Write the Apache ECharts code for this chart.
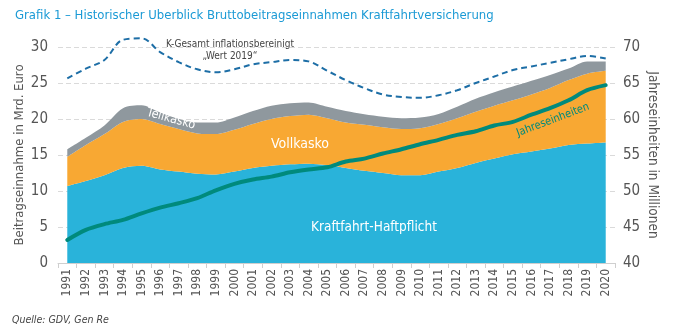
<!DOCTYPE html>
<html>
<head>
<meta charset="utf-8">
<script src="https://cdn.jsdelivr.net/npm/echarts@6/dist/echarts.min.js"></script>
<style>
  html, body { margin: 0; padding: 0; background: #fff; }
  #chart { width: 674px; height: 335px; }
</style>
</head>
<body>
<div id="chart"></div>
<script>
// Jahre
const years = ['1991','1992','1993','1994','1995','1996','1997','1998','1999','2000',
               '2001','2002','2003','2004','2005','2006','2007','2008','2009','2010',
               '2011','2012','2013','2014','2015','2016','2017','2018','2019','2020'];

// Beitragseinnahmen in Mrd. Euro (gestapelt)
const haftpflicht = [10.7, 11.4, 12.2, 13.2, 13.5, 13.0, 12.7, 12.4, 12.3, 12.7,
                     13.2, 13.5, 13.7, 13.8, 13.6, 13.2, 12.8, 12.5, 12.2, 12.2,
                     12.7, 13.2, 13.9, 14.5, 15.1, 15.5, 15.9, 16.4, 16.6, 16.75];
const vollkasko   = [4.05, 5.0, 5.7, 6.4, 6.5, 6.3, 5.9, 5.6, 5.6, 5.8,
                     6.1, 6.5, 6.7, 6.8, 6.5, 6.3, 6.4, 6.35, 6.4, 6.5,
                     6.6, 6.9, 7.1, 7.35, 7.5, 7.9, 8.4, 9.0, 9.7, 9.95];
const teilkasko   = [1.05, 1.0, 1.2, 1.9, 1.9, 1.6, 1.4, 1.5, 1.6, 1.7,
                     1.8, 1.85, 1.8, 1.7, 1.6, 1.6, 1.45, 1.45, 1.5, 1.5,
                     1.4, 1.6, 1.8, 1.85, 1.9, 1.9, 1.8, 1.6, 1.7, 1.3];

// K-Gesamt inflationsbereinigt (Wert 2019), Mrd. Euro
const kGesamtReal = [25.65, 27.0, 28.2, 31.0, 31.2, 29.3, 27.9, 26.9, 26.5, 26.9,
                     27.6, 27.9, 28.2, 28.0, 26.7, 25.4, 24.3, 23.4, 23.05, 22.95,
                     23.3, 24.0, 25.0, 25.9, 26.8, 27.3, 27.8, 28.3, 28.75, 28.4];

// Jahreseinheiten in Millionen
const jahreseinheiten = [43.2, 44.6, 45.4, 46.0, 46.9, 47.7, 48.3, 49.0, 50.1, 51.0,
                         51.6, 52.0, 52.6, 53.0, 53.3, 54.1, 54.5, 55.2, 55.8, 56.5,
                         57.1, 57.8, 58.3, 59.1, 59.6, 60.6, 61.5, 62.6, 64.0, 64.7];

const FONT = "'Liberation Sans Narrow', 'DejaVu Sans Condensed', 'Open Sans', sans-serif";
const GREY_TEXT = '#555555';

const chart = echarts.init(document.getElementById('chart'), null, { renderer: 'canvas' });

const areaSeries = (name, data, color) => ({
  name, type: 'line', stack: 'beitrag', data,
  smooth: 0.3, symbol: 'none',
  lineStyle: { width: 0 },
  areaStyle: { color, opacity: 1 },
  itemStyle: { color },
  z: 2
});

// Beschriftungen im Diagramm liegen über den Flächen
const note = (x, y, text, style, rotation) => ({
  type: 'text', x, y, rotation: rotation || 0, z: 100,
  style: Object.assign({ text, fontFamily: FONT }, style)
});

chart.setOption({
  animation: false,
  textStyle: { fontFamily: FONT },
  title: {
    text: 'Grafik 1 – Historischer Uberblick Bruttobeitragseinnahmen Kraftfahrtversicherung',
    left: 10, top: 4,
    textStyle: { fontFamily: FONT, fontSize: 13, fontWeight: 'normal', color: '#1b9ad5' }
  },
  grid: { left: 58, right: 59, top: 47, bottom: 72 },
  xAxis: {
    type: 'category', data: years, boundaryGap: true,
    axisLine: { lineStyle: { color: '#cfcfcf' } },
    axisTick: { show: true, length: 5, lineStyle: { color: '#cfcfcf' } },
    axisLabel: { rotate: 90, fontSize: 12, color: GREY_TEXT, margin: 6, fontFamily: FONT }
  },
  yAxis: [
    {
      type: 'value', min: 0, max: 30, interval: 5, position: 'left',
      name: 'Beitragseinnahme in Mrd. Euro', nameLocation: 'middle', nameGap: 32,
      nameMoveOverlap: false,
      nameTextStyle: { fontSize: 13, color: GREY_TEXT, fontFamily: FONT },
      axisLine: { show: false }, axisTick: { show: false },
      axisLabel: { fontSize: 15, color: GREY_TEXT, margin: 10, fontFamily: FONT },
      splitLine: { lineStyle: { color: '#dadada', type: [5, 3] } }
    },
    {
      type: 'value', min: 40, max: 70, interval: 5, position: 'right',
      name: 'Jahreseinheiten in Millionen', nameLocation: 'middle', nameGap: 30, nameRotate: -90,
      nameMoveOverlap: false,
      nameTextStyle: { fontSize: 13.5, color: GREY_TEXT, fontFamily: FONT },
      axisLine: { show: false }, axisTick: { show: false },
      axisLabel: { fontSize: 15, color: GREY_TEXT, margin: 8, fontFamily: FONT },
      splitLine: { show: false }
    }
  ],
  series: [
    areaSeries('Kraftfahrt-Haftpflicht', haftpflicht, '#29b3da'),
    areaSeries('Vollkasko', vollkasko, '#f8a833'),
    areaSeries('Teilkasko', teilkasko, '#8f989e'),
    {
      name: 'K-Gesamt inflationsbereinigt', type: 'line', yAxisIndex: 0, data: kGesamtReal,
      smooth: 0.35, symbol: 'none', clip: false,
      lineStyle: { color: '#1d6ea6', width: 2, type: [6, 4] }, z: 4
    },
    {
      name: 'Jahreseinheiten', type: 'line', yAxisIndex: 1, data: jahreseinheiten,
      smooth: 0.3, symbol: 'none',
      lineStyle: { color: '#008a7c', width: 4, cap: 'round' }, z: 5
    }
  ],
  graphic: [
    note(230, 38, 'K-Gesamt inflationsbereinigt\n„Wert 2019“',
         { align: 'center', fontSize: 10, lineHeight: 12, fill: '#444' }),
    note(171, 119, 'Teilkasko',
         { align: 'center', verticalAlign: 'middle', fontSize: 12.5, fill: '#fff' }, -0.27),
    note(300, 144, 'Vollkasko',
         { align: 'center', verticalAlign: 'middle', fontSize: 14, fill: '#fff' }),
    note(374, 227, 'Kraftfahrt-Haftpflicht',
         { align: 'center', verticalAlign: 'middle', fontSize: 13.5, fill: '#fff' }),
    note(553, 120, 'Jahreseinheiten',
         { align: 'center', verticalAlign: 'middle', fontSize: 11, fill: '#008a7c' }, 0.36),
    note(12, 320, 'Quelle: GDV, Gen Re',
         { verticalAlign: 'middle', fontSize: 10.5, fontStyle: 'italic', fill: '#444' })
  ]
});
</script>
</body>
</html>
